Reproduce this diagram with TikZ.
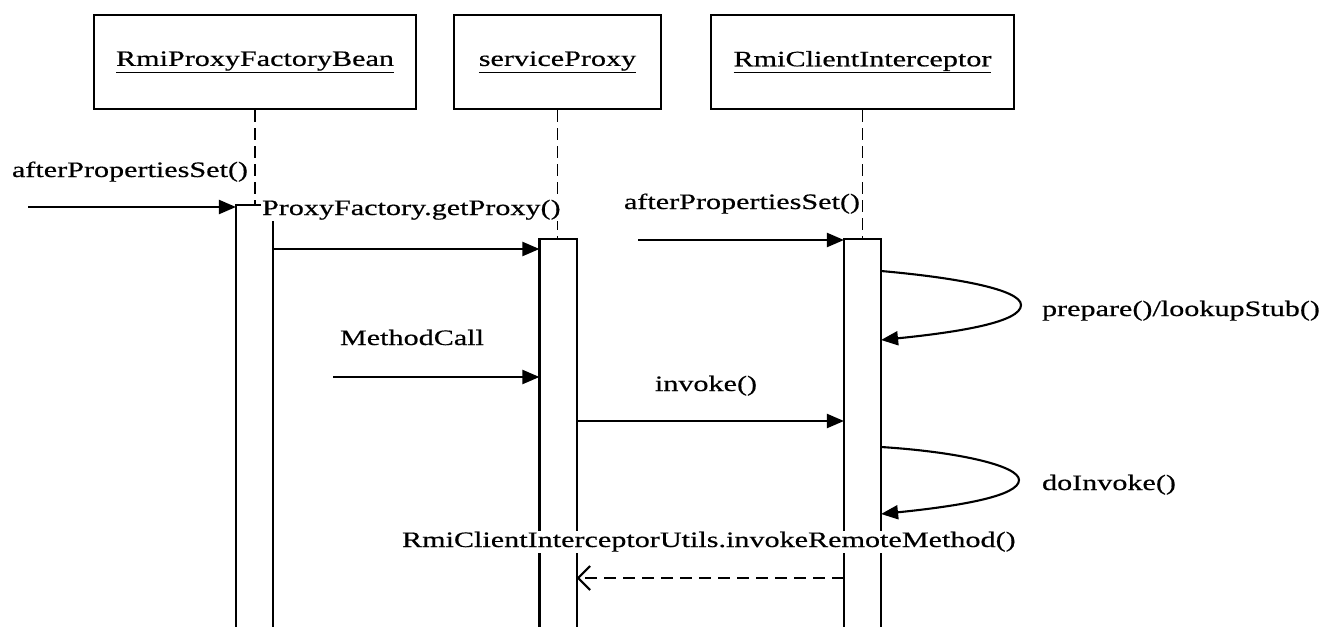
\documentclass[tikz,border=0pt]{standalone}
\usepackage{fontspec}
\setmainfont[FakeStretch=1.37,RawFeature={embolden=0.5}]{Liberation Serif}
\usetikzlibrary{arrows.meta,calc}
\begin{document}
\begin{tikzpicture}[x=1pt,y=-1pt,line width=2.1pt,
  font=\fontsize{22}{26}\selectfont,
  obj/.style={draw,minimum height=94pt,inner sep=0pt},
  act/.style={fill=white,inner sep=0pt,minimum width=35pt},
  life/.style={dash pattern=on 12pt off 6pt,line width=1.8pt},
  msg/.style={-{Triangle[length=17pt,width=14pt]}},
  ret/.style={dash pattern=on 12pt off 7pt,-{Straight Barb[length=12pt,width=24pt]}},
  lbl/.style={inner sep=1pt},
  wlbl/.style={inner sep=1pt,fill=white}]
\useasboundingbox (0,0) rectangle (1324,626);
% objects
\node[obj,minimum width=322pt] (b1) at (255,62) {\underline{RmiProxyFactoryBean}};
\node[obj,minimum width=207pt] (b2) at (557.5,62) {\underline{serviceProxy}};
\node[obj,minimum width=303pt] (b3) at (862.5,62) {\underline{RmiClientInterceptor}};
% activations
\node[act,minimum height=420pt] (a1) at (254.5,416) {};
\node[act,minimum height=386pt] (a2) at (558,433) {};
\node[act,minimum height=386pt] (a3) at (862.5,433) {};
% lifelines
\draw[life] (b1.south) -- (b1.south |- a1.north);
\draw[life] (b2.south) -- (b2.south |- a2.north);
\draw[life] (b3.south) -- (b3.south |- a3.north);
\foreach \a in {a1,a2,a3}
  \draw (\a.south west) |- (\a.north east) -- (\a.south east);
% message 1
\coordinate (s1) at (28,207);
\draw[msg] (s1) -- (a1.west |- s1);
\node[lbl,anchor=base] (l1) at (130,177) {afterPropertiesSet()};
% message 2
\coordinate (y2) at (0,249);
\draw[msg] (a1.east |- y2) -- (a2.west |- y2);
\node[wlbl,anchor=base west] (l2) at (260,215) {ProxyFactory.getProxy()};
% message 3
\coordinate (s3) at (638,240);
\draw[msg] (s3) -- (a3.west |- s3);
\node[lbl,anchor=base] (l3) at (742,209) {afterPropertiesSet()};
% method call
\coordinate (s4) at (333,377);
\draw[msg] (s4) -- (a2.west |- s4);
\node[lbl,anchor=base] (l4) at (412,345) {MethodCall};
% invoke
\coordinate (y5) at (0,421);
\draw[msg] (a2.east |- y5) -- (a3.west |- y5);
\node[lbl,anchor=base] (l5) at (706,391) {invoke()};
% self call 1
\coordinate (y6a) at (0,271);
\coordinate (y6b) at (0,340);
\coordinate (t6) at (1021,305);
\draw[msg] (a3.east |- y6a) .. controls (960,278) and (1021,290) .. (t6)
  .. controls (1021,322) and (960,332) .. (a3.east |- y6b);
\node[lbl,anchor=base west] (l6) at (1040,316) {prepare()/lookupStub()};
% self call 2
\coordinate (y7a) at (0,447);
\coordinate (y7b) at (0,514);
\coordinate (t7) at (1019,480);
\draw[msg] (a3.east |- y7a) .. controls (960,452) and (1019,466) .. (t7)
  .. controls (1019,496) and (960,506) .. (a3.east |- y7b);
\node[lbl,anchor=base west] (l7) at (1040,490) {doInvoke()};
% return
\coordinate (y8) at (0,578);
\node[wlbl,anchor=base west] (l8) at (400,547) {RmiClientInterceptorUtils.invokeRemoteMethod()};
\draw[ret] (a3.west |- y8) -- (a2.east |- y8);
\end{tikzpicture}
\end{document}
